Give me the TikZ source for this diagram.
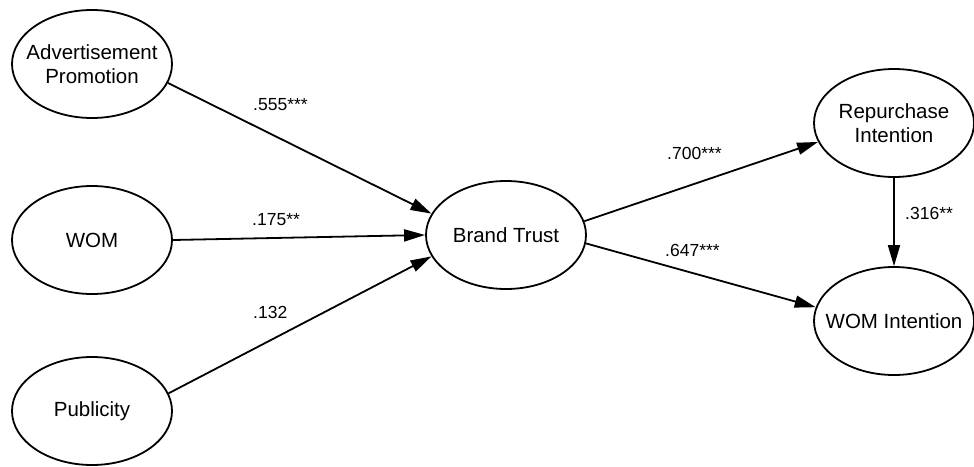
\documentclass[tikz,border=0pt]{standalone}
\usepackage{fontspec}
\setmainfont{Liberation Sans}
\usetikzlibrary{shapes.geometric,arrows.meta}

\tikzset{
  % fixed-size ellipse; the negative inner sep keeps the text from widening it
  construct/.style={ellipse, draw=black, line width=1.8pt, fill=white,
    minimum width=160pt, minimum height=108pt,
    inner xsep=-40pt, inner ysep=-20pt,
    align=center, font=\fontsize{20.5}{24}\selectfont},
  path/.style={line width=1.8pt, draw=black,
    -{Triangle[length=21pt,width=12pt]}},
  coef/.style={anchor=west, inner sep=0pt, font=\fontsize{17.5}{20}\selectfont}
}

\begin{document}
\begin{tikzpicture}[x=1pt,y=-1pt]
  \useasboundingbox[fill=white] (0,0) rectangle (974,466);

  % latent constructs
  \node[construct] (adv)  at (92,64)   {Advertisement\\Promotion};
  \node[construct] (wom)  at (92,240)  {WOM};
  \node[construct] (pub)  at (92,411)  {Publicity};
  \node[construct] (bt)   at (506,235) {Brand Trust};
  \node[construct] (rep)  at (894,123) {Repurchase\\Intention};
  \node[construct] (womi) at (894,321) {WOM Intention};

  % structural paths
  \draw[path] (adv.-14) -- (bt.164);
  \draw[path] (wom.east) -- (bt.west);
  \draw[path] (pub.13) -- (bt.196);
  \draw[path] (bt.10) -- (rep.194);
  \draw[path] (bt.-6) -- (womi.170);
  \draw[path] (rep.south) -- (womi.north);

  % path coefficients
  \node[coef] (c1) at (253,105) {.555***};
  \node[coef] (c2) at (252,220) {.175**};
  \node[coef] (c3) at (253,312) {.132};
  \node[coef] (c4) at (667,153) {.700***};
  \node[coef] (c5) at (665,250) {.647***};
  \node[coef] (c6) at (905,213) {.316**};
\end{tikzpicture}
\end{document}
